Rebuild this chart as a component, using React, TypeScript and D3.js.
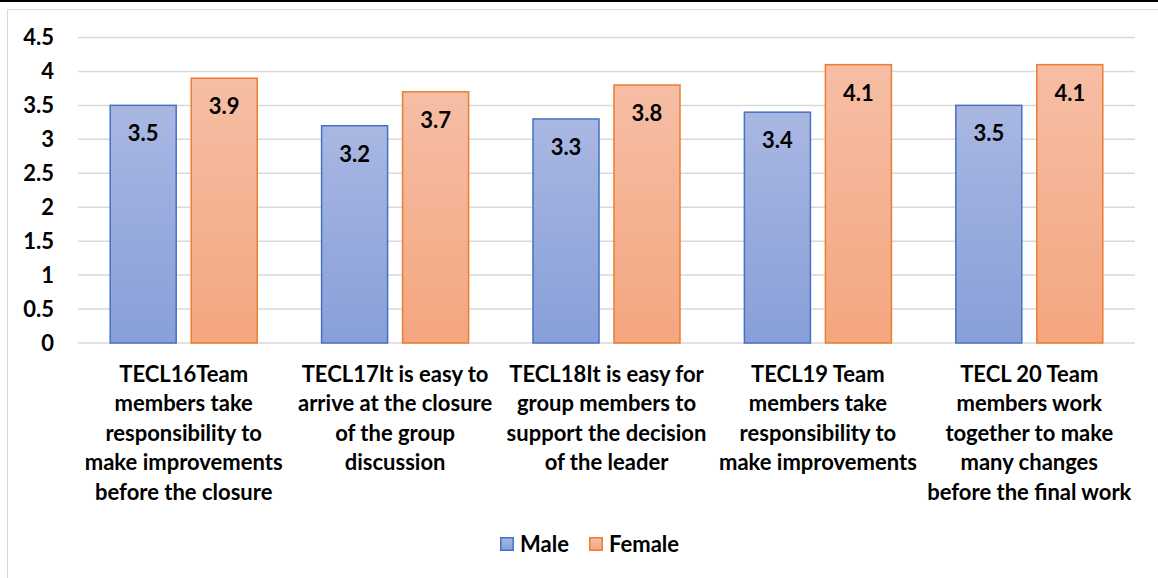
import { useEffect, useRef } from "react";
import * as d3 from "d3";

const categories = ["TECL16", "TECL17", "TECL18", "TECL19", "TECL20"];
const categoryLines = [
  ["TECL16Team", "members take", "responsibility to", "make improvements", "before the closure"],
  ["TECL17It is easy to", "arrive at the closure", "of the group", "discussion"],
  ["TECL18It is easy for", "group members to", "support the decision", "of the leader"],
  ["TECL19 Team", "members take", "responsibility to", "make improvements"],
  ["TECL 20 Team", "members work", "together to make", "many changes", "before the final work"],
];
const series = ["Male", "Female"];
const maleValues = [3.5, 3.2, 3.3, 3.4, 3.5];
const femaleValues = [3.9, 3.7, 3.8, 4.1, 4.1];
const yTicks = [0, 0.5, 1, 1.5, 2, 2.5, 3, 3.5, 4, 4.5];

const FONT = "Lato, 'Open Sans', sans-serif";
const FS = 22;

export default function App() {
  const ref = useRef<SVGSVGElement>(null);

  useEffect(() => {
    if (!ref.current) return;
    const width = 1158;
    const height = 578;
    const svg = d3.select(ref.current);
    svg.selectAll("*").remove();
    svg.attr("width", width).attr("height", height);

    const defs = svg.append("defs");
    const grads = [
      { id: "gMale", top: "#a9b7e2", bottom: "#889fd8" },
      { id: "gFemale", top: "#f6bea5", bottom: "#f4a67f" },
    ];
    grads.forEach((g) => {
      const lg = defs
        .append("linearGradient")
        .attr("id", g.id)
        .attr("x1", 0)
        .attr("y1", 0)
        .attr("x2", 0)
        .attr("y2", 1);
      lg.append("stop").attr("offset", "0%").attr("stop-color", g.top);
      lg.append("stop").attr("offset", "100%").attr("stop-color", g.bottom);
    });
    const fills: Record<string, string> = { Male: "url(#gMale)", Female: "url(#gFemale)" };
    const strokes: Record<string, string> = { Male: "#4472c4", Female: "#ed7d31" };

    svg.append("rect").attr("width", width).attr("height", height).attr("fill", "#fff");
    // top black strip and chart frame
    svg.append("rect").attr("x", 0).attr("y", 0).attr("width", width).attr("height", 2).attr("fill", "#000");
    svg
      .append("path")
      .attr("d", `M7.5,${height} V9.5 H${width}`)
      .attr("fill", "none")
      .attr("stroke", "#d9d9d9")
      .attr("stroke-width", 1);

    const x = d3.scaleBand().domain(categories).range([78, 1135]);
    const xs = d3
      .scaleBand()
      .domain(series)
      .range([0, x.bandwidth()])
      .paddingInner(0.185)
      .paddingOuter(0.3975);
    const y = d3.scaleLinear().domain([0, 4.5]).range([343, 37.5]);

    // gridlines
    svg
      .append("g")
      .selectAll("line")
      .data(yTicks)
      .enter()
      .append("line")
      .attr("x1", 78)
      .attr("x2", 1135)
      .attr("y1", (d) => y(d))
      .attr("y2", (d) => y(d))
      .attr("stroke", "#d9d9d9")
      .attr("stroke-width", 1.5);

    // y tick labels
    svg
      .append("g")
      .selectAll("text")
      .data(yTicks)
      .enter()
      .append("text")
      .attr("x", 54)
      .attr("y", (d) => y(d) + 7.5)
      .attr("text-anchor", "end")
      .attr("font-family", FONT)
      .attr("font-weight", 700)
      .attr("font-size", FS)
      .attr("fill", "#000")
      .text((d) => String(d));

    const rows = categories.map((c, i) => ({ c, vals: [maleValues[i], femaleValues[i]] }));
    const bars = rows.flatMap((r) =>
      series.map((s, j) => ({ c: r.c, s, v: r.vals[j] }))
    );

    const bx = (d: { c: string; s: string }) => (x(d.c) || 0) + (xs(d.s) || 0);

    svg
      .append("g")
      .selectAll("rect")
      .data(bars)
      .enter()
      .append("rect")
      .attr("x", (d) => bx(d))
      .attr("y", (d) => y(d.v))
      .attr("width", xs.bandwidth())
      .attr("height", (d) => y(0) - y(d.v))
      .attr("fill", (d) => fills[d.s])
      .attr("stroke", (d) => strokes[d.s])
      .attr("stroke-width", 1.5);

    svg
      .append("g")
      .selectAll("text")
      .data(bars)
      .enter()
      .append("text")
      .attr("x", (d) => bx(d) + xs.bandwidth() / 2)
      .attr("y", (d) => y(d.v) + 36)
      .attr("text-anchor", "middle")
      .attr("font-family", FONT)
      .attr("font-weight", 700)
      .attr("font-size", FS)
      .attr("fill", "#000")
      .text((d) => d.v.toFixed(1));

    // category labels
    const cl = svg
      .append("g")
      .selectAll("text")
      .data(categories)
      .enter()
      .append("text")
      .attr("text-anchor", "middle")
      .attr("font-family", FONT)
      .attr("font-weight", 700)
      .attr("font-size", FS)
      .attr("fill", "#000");
    cl.each(function (c, i) {
      d3.select(this)
        .selectAll("tspan")
        .data(categoryLines[i])
        .enter()
        .append("tspan")
        .attr("x", (x(c) || 0) + x.bandwidth() / 2)
        .attr("y", (_, k) => 381.5 + k * 29.5)
        .text((t) => t);
    });

    // legend
    const legendX = [500, 589];
    const lg = svg.append("g");
    series.forEach((s, i) => {
      lg.append("rect")
        .attr("x", legendX[i] + 0.75)
        .attr("y", 537.75)
        .attr("width", 12.5)
        .attr("height", 12.5)
        .attr("fill", fills[s])
        .attr("stroke", strokes[s])
        .attr("stroke-width", 1.5);
      lg.append("text")
        .attr("x", legendX[i] + 20)
        .attr("y", 551.5)
        .attr("font-family", FONT)
        .attr("font-weight", 700)
        .attr("font-size", FS)
        .attr("fill", "#000")
        .text(s);
    });
  }, []);

  return (
    <div style={{ position: "absolute", left: 0, top: 0 }}>
      <svg ref={ref} style={{ display: "block" }} />
    </div>
  );
}
